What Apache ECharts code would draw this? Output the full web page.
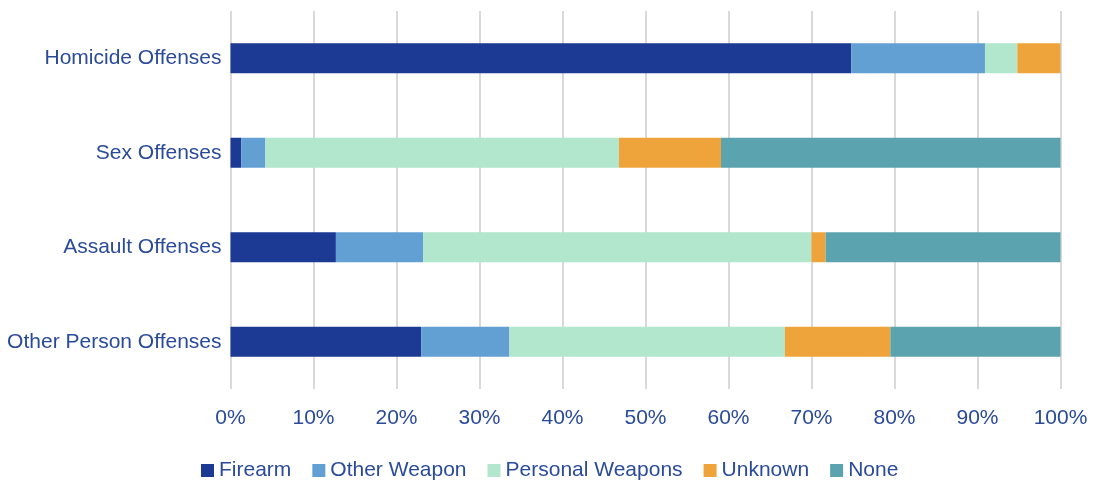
<!DOCTYPE html>
<html>
<head>
<meta charset="utf-8">
<script src="https://cdn.jsdelivr.net/npm/echarts@6/dist/echarts.min.js"></script>
<style>
  html, body { margin: 0; padding: 0; background: #fff; }
  #main { width: 1095px; height: 480px; }
</style>
</head>
<body>
<div id="main"></div>
<script>
// 数据：各类犯罪的武器类型占比（%）
var categories = ['Homicide Offenses', 'Sex Offenses', 'Assault Offenses', 'Other Person Offenses'];
var firearm = [74.8, 1.3, 12.7, 23.0];
var otherWeapon = [16.1, 2.9, 10.5, 10.6];
var personalWeapons = [3.9, 42.6, 46.8, 33.2];
var unknown = [5.2, 12.3, 1.7, 12.7];
var none = [0, 40.9, 28.3, 20.5];
var seriesNames = ['Firearm', 'Other Weapon', 'Personal Weapons', 'Unknown', 'None'];
var seriesColors = ['#1c3a94', '#629fd2', '#b2e6cd', '#efa43b', '#5ba3ae'];

var textColor = '#2a4a9a';
var font = 'Liberation Sans, Arial, sans-serif';

var chart = echarts.init(document.getElementById('main'));

var seriesData = [firearm, otherWeapon, personalWeapons, unknown, none];
var series = seriesData.map(function (d, i) {
    return {
        name: seriesNames[i],
        type: 'bar',
        stack: 'total',
        barWidth: 30,
        itemStyle: { color: seriesColors[i] },
        data: d
    };
});

chart.setOption({
    animation: false,
    color: seriesColors,
    grid: { left: 230.5, right: 34.5, top: 11, bottom: 91 },
    legend: {
        data: seriesNames,
        left: 196,
        top: 455,
        itemWidth: 13,
        itemHeight: 13,
        itemGap: 21,
        icon: 'rect',
        textStyle: { color: textColor, fontSize: 21, fontFamily: font }
    },
    xAxis: {
        type: 'value',
        min: 0,
        max: 100,
        interval: 10,
        axisLine: { show: false },
        axisTick: { show: false },
        axisLabel: {
            color: textColor, fontSize: 21, fontFamily: font, margin: 19,
            formatter: '{value}%'
        },
        splitLine: { lineStyle: { color: '#d9d9d9', width: 2 } }
    },
    yAxis: {
        type: 'category',
        inverse: true,
        data: categories,
        axisLine: { show: false },
        axisTick: { show: false },
        axisLabel: { color: textColor, fontSize: 21, fontFamily: font, margin: 9 }
    },
    series: series
});
</script>
</body>
</html>
